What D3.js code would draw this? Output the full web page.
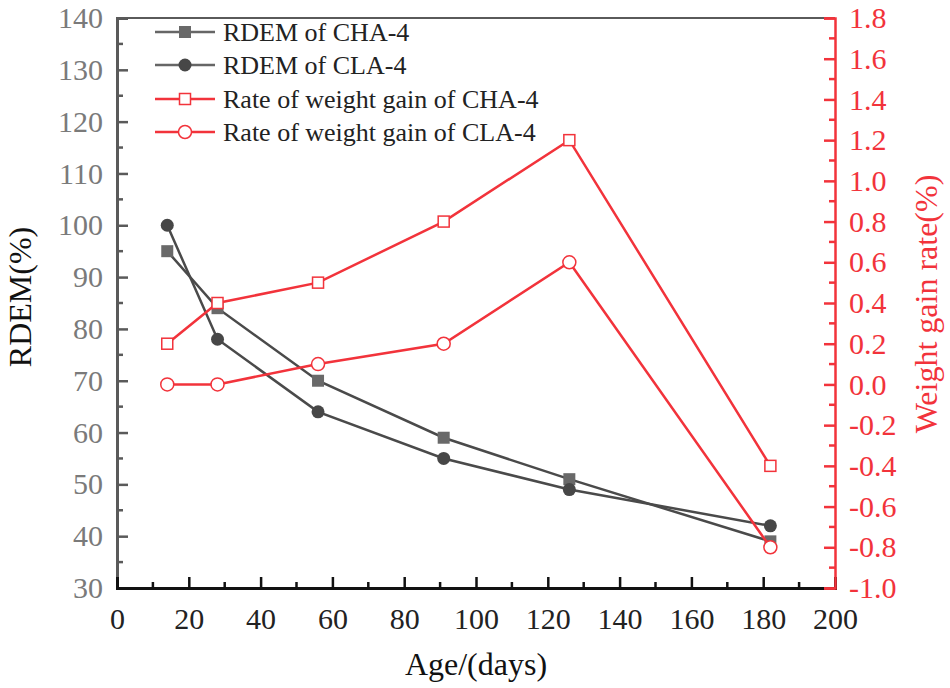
<!DOCTYPE html>
<html><head><meta charset="utf-8">
<script src="https://cdn.jsdelivr.net/npm/d3@7"></script>
<style>body{margin:0;background:#fff}svg, svg text{font-family:"Liberation Serif","Times New Roman",serif !important}</style>
</head><body>
<svg id="c" width="950" height="688"></svg>
<script>
const days = [14, 28, 56, 91, 126, 182];
const rdemCHA = [95, 84, 70, 59, 51, 39];
const rdemCLA = [100, 78, 64, 55, 49, 42];
const gainCHA = [0.2, 0.4, 0.5, 0.8, 1.2, -0.4];
const gainCLA = [0.0, 0.0, 0.1, 0.2, 0.6, -0.8];
const xTicks = [0,20,40,60,80,100,120,140,160,180,200];
const yLeftTicks = [30,40,50,60,70,80,90,100,110,120,130,140];
const yRightTicks = [-1.0,-0.8,-0.6,-0.4,-0.2,0.0,0.2,0.4,0.6,0.8,1.0,1.2,1.4,1.6,1.8];
const legendLabels = ["RDEM of CHA-4","RDEM of CLA-4","Rate of weight gain of CHA-4","Rate of weight gain of CLA-4"];

const L=117, R=835, T=18, B=588;
const RED="#f2333b", GRAY_LINE="#4a4a4a";
const svg=d3.select("#c");
const x=d3.scaleLinear().domain([0,200]).range([L,R]);
const yL=d3.scaleLinear().domain([30,140]).range([B,T]);
const yR=d3.scaleLinear().domain([-1.0,1.8]).range([B,T]);
const fmt1 = d => (Math.abs(d)<1e-9?0:d).toFixed(1);

// top border
svg.append("line").attr("x1",L).attr("x2",R).attr("y1",T).attr("y2",T).attr("stroke","#5a5a5a").attr("stroke-width",2);

// left axis
const gl=svg.append("g").attr("transform",`translate(${L},0)`);
gl.call(d3.axisLeft(yL).tickValues(yLeftTicks).tickSize(-11).tickPadding(14).tickFormat(d=>String(d)));
gl.attr("font-family",null).attr("font-size",null);
gl.selectAll(".tick line").attr("stroke","#5a5a5a").attr("stroke-width",2.5);
gl.select(".domain").attr("stroke","#5a5a5a").attr("stroke-width",3);
gl.selectAll(".tick text").attr("fill","#7a7a7a").style("font-size","30px").attr("x",-14);
gl.selectAll(".minor").data(d3.range(35,140,10)).enter().append("line")
  .attr("x1",0).attr("x2",6).attr("y1",d=>yL(d)).attr("y2",d=>yL(d)).attr("stroke","#5a5a5a").attr("stroke-width",2.5);

// bottom axis
const gb=svg.append("g").attr("transform",`translate(0,${B})`);
gb.call(d3.axisBottom(x).tickValues(xTicks).tickSize(-11).tickPadding(20).tickFormat(d=>String(d)));
gb.attr("font-family",null).attr("font-size",null);
gb.selectAll(".tick line").attr("stroke","#111").attr("stroke-width",2.5);
gb.select(".domain").attr("stroke","#111").attr("stroke-width",3);
gb.selectAll(".tick text").attr("fill","#222").style("font-size","30px");
gb.selectAll(".minor").data(d3.range(10,200,20)).enter().append("line")
  .attr("x1",d=>x(d)).attr("x2",d=>x(d)).attr("y1",0).attr("y2",-6).attr("stroke","#111").attr("stroke-width",2.5);

// right axis
const gr=svg.append("g").attr("transform",`translate(${R},0)`);
gr.call(d3.axisRight(yR).tickValues(yRightTicks).tickSize(-11).tickPadding(14).tickFormat(fmt1));
gr.attr("font-family",null).attr("font-size",null);
gr.selectAll(".tick line").attr("stroke",RED).attr("stroke-width",2.5);
gr.select(".domain").attr("stroke",RED).attr("stroke-width",2.5);
gr.selectAll(".tick text").attr("fill",RED).style("font-size","30px").attr("x",14);
gr.selectAll(".minor").data(d3.range(-0.9,1.8,0.2)).enter().append("line")
  .attr("x1",0).attr("x2",-6).attr("y1",d=>yR(d)).attr("y2",d=>yR(d)).attr("stroke",RED).attr("stroke-width",2.5);

// axis titles
svg.append("text").attr("transform",`translate(31,297) rotate(-90)`).attr("text-anchor","middle")
  .style("font-size","32px").attr("fill","#111").text("RDEM(%)");
svg.append("text").attr("transform",`translate(937,304) rotate(-90)`).attr("text-anchor","middle")
  .style("font-size","32px").attr("fill",RED).text("Weight gain rate(%)");
svg.append("text").attr("x",(L+R)/2).attr("y",675).attr("text-anchor","middle")
  .style("font-size","32px").attr("fill","#111").text("Age/(days)");

// series
const lineL=d3.line().x(d=>x(d[0])).y(d=>yL(d[1]));
const lineR=d3.line().x(d=>x(d[0])).y(d=>yR(d[1]));
const zip=(a,b)=>a.map((v,i)=>[v,b[i]]);
const cha=zip(days,rdemCHA), cla=zip(days,rdemCLA), gcha=zip(days,gainCHA), gcla=zip(days,gainCLA);

svg.append("path").attr("d",lineL(cha)).attr("fill","none").attr("stroke",GRAY_LINE).attr("stroke-width",2.5);
svg.selectAll(".sq").data(cha).enter().append("rect")
  .attr("x",d=>x(d[0])-6).attr("y",d=>yL(d[1])-6).attr("width",12).attr("height",12).attr("fill","#696969");
svg.append("path").attr("d",lineL(cla)).attr("fill","none").attr("stroke",GRAY_LINE).attr("stroke-width",2.5);
svg.selectAll(".ci").data(cla).enter().append("circle")
  .attr("cx",d=>x(d[0])).attr("cy",d=>yL(d[1])).attr("r",6.5).attr("fill","#474747");

svg.append("path").attr("d",lineR(gcha)).attr("fill","none").attr("stroke",RED).attr("stroke-width",2.5);
svg.selectAll(".osq").data(gcha).enter().append("rect")
  .attr("x",d=>x(d[0])-5.5).attr("y",d=>yR(d[1])-5.5).attr("width",11).attr("height",11).attr("fill","#fff").attr("stroke",RED).attr("stroke-width",1.5);
svg.append("path").attr("d",lineR(gcla)).attr("fill","none").attr("stroke",RED).attr("stroke-width",2.5);
svg.selectAll(".oci").data(gcla).enter().append("circle")
  .attr("cx",d=>x(d[0])).attr("cy",d=>yR(d[1])).attr("r",6.5).attr("fill","#fff").attr("stroke",RED).attr("stroke-width",1.5);

// legend
const lg=svg.append("g");
const ly=[32,65,99,132];
legendLabels.forEach((t,i)=>{
  const col = i<2 ? "#666" : RED;
  lg.append("line").attr("x1",155).attr("x2",215).attr("y1",ly[i]).attr("y2",ly[i]).attr("stroke",col).attr("stroke-width",2.5);
  if(i===0) lg.append("rect").attr("x",179).attr("y",ly[i]-6).attr("width",12).attr("height",12).attr("fill","#696969");
  if(i===1) lg.append("circle").attr("cx",185).attr("cy",ly[i]).attr("r",6.5).attr("fill","#474747");
  if(i===2) lg.append("rect").attr("x",179.5).attr("y",ly[i]-5.5).attr("width",11).attr("height",11).attr("fill","#fff").attr("stroke",RED).attr("stroke-width",1.5);
  if(i===3) lg.append("circle").attr("cx",185).attr("cy",ly[i]).attr("r",6.5).attr("fill","#fff").attr("stroke",RED).attr("stroke-width",1.5);
  lg.append("text").attr("x",223).attr("y",ly[i]).attr("dy","0.35em").style("font-size","26px").attr("fill","#222").text(t);
});
</script>
</body></html>
